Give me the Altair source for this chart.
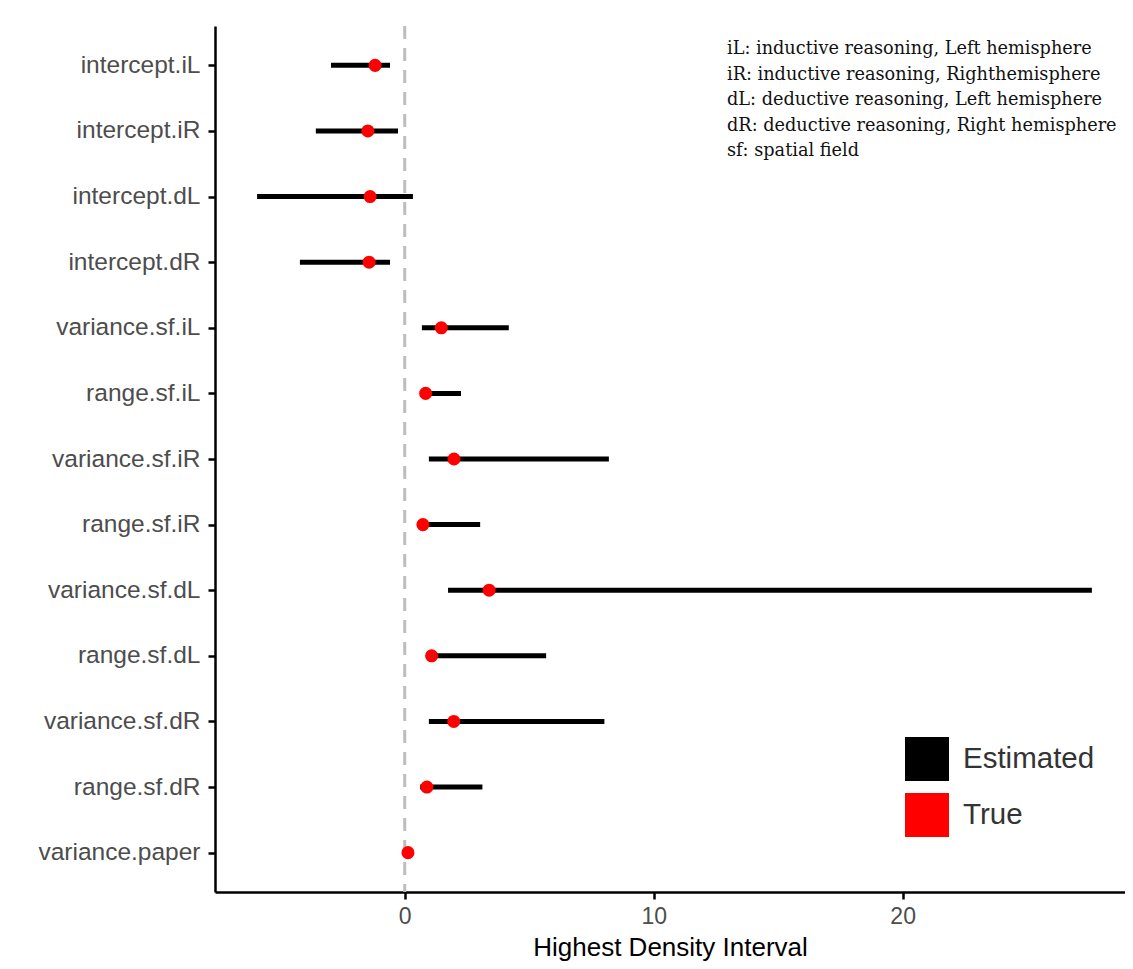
import altair as alt
import pandas as pd

params = ["intercept.iL", "intercept.iR", "intercept.dL", "intercept.dR",
          "variance.sf.iL", "range.sf.iL", "variance.sf.iR", "range.sf.iR",
          "variance.sf.dL", "range.sf.dL", "variance.sf.dR", "range.sf.dR",
          "variance.paper"]
hdi_low = [-2.96, -3.57, -5.93, -4.21, 0.69, 0.62, 0.97, 0.58, 1.74, 0.92, 0.97, 0.62, 0.06]
hdi_high = [-0.59, -0.27, 0.33, -0.59, 4.18, 2.26, 8.20, 3.03, 27.6, 5.68, 8.02, 3.12, 0.20]
true_vals = [-1.19, -1.48, -1.39, -1.43, 1.47, 0.84, 1.98, 0.73, 3.39, 1.08, 1.97, 0.89, 0.13]

legend_types = ["Estimated", "True"]
legend_colors = ["black", "red"]

note_lines = ["iL: inductive reasoning, Left hemisphere",
              "iR: inductive reasoning, Righthemisphere",
              "dL: deductive reasoning, Left hemisphere",
              "dR: deductive reasoning, Right hemisphere",
              "sf: spatial field"]

df = pd.DataFrame({"param": params, "low": hdi_low, "high": hdi_high,
                   "true": true_vals, "type": "True"})

x_scale = alt.Scale(domain=[-7.62, 28.93], nice=False, zero=False)
y_scale = alt.Scale(type="point", domain=params, padding=0.6)

base = alt.Chart(df)

zero_line = alt.Chart(pd.DataFrame({"z": [0]})).mark_rule(
    color="#bdbdbd", strokeWidth=3, strokeDash=[13, 9]
).encode(x=alt.X("z:Q", scale=x_scale))

rules = base.mark_rule(color="black", strokeWidth=5).encode(
    x=alt.X("low:Q", scale=x_scale,
            axis=alt.Axis(values=[0, 10, 20], title="Highest Density Interval",
                          labelPadding=6, labelFontSize=23, titlePadding=6)),
    x2="high:Q",
    y=alt.Y("param:N", scale=y_scale, sort=params, axis=alt.Axis(title=None)),
)

points = base.mark_circle(size=170, opacity=1).encode(
    x=alt.X("true:Q", scale=x_scale),
    y=alt.Y("param:N", scale=y_scale, sort=params),
    fill=alt.Fill("type:N",
                  scale=alt.Scale(domain=legend_types, range=legend_colors),
                  legend=alt.Legend(title=None, orient="none", legendX=690, legendY=711,
                                    symbolType="square", symbolSize=1936,
                                    symbolStrokeWidth=0, labelFontSize=29.5,
                                    labelFont="Liberation Sans", labelColor="#333333",
                                    labelOffset=14, rowPadding=12, padding=0)),
)

notes = alt.Chart(pd.DataFrame({"a": [0]})).mark_text(
    align="left", baseline="top", font="DejaVu Serif", fontSize=17.7,
    lineHeight=25.5, color="#111111"
).encode(x=alt.value(512), y=alt.value(14), text=alt.value(note_lines))

chart = alt.layer(zero_line, rules, points, notes).properties(
    width=910, height=866,
    padding={"left": 207, "top": 18, "right": 0, "bottom": 69},
    autosize=alt.AutoSizeParams(type="none"),
).configure_view(stroke=None).configure_axis(
    grid=False, domainColor="black", domainWidth=2.5, tickColor="black",
    tickWidth=2.5, tickSize=7, labelFont="Liberation Sans", labelFontSize=24.5,
    labelColor="#4d4d4d", labelPadding=8, titleFont="Liberation Sans",
    titleFontSize=26, titleFontWeight="normal", titleColor="black",
)

chart.save("out.html", embed_options={"renderer": "svg", "actions": False})
